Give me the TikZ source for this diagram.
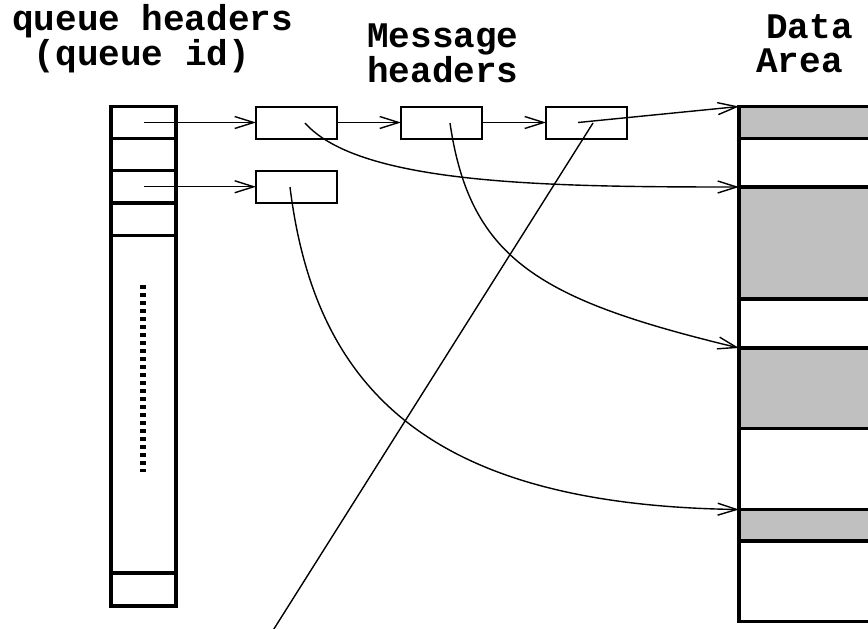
\documentclass[tikz,border=0pt]{standalone}
\usepackage{fontspec}
\setmonofont{Liberation Mono}
\usetikzlibrary{arrows.meta}
\definecolor{shade}{RGB}{192,192,192}
\begin{document}
\begin{tikzpicture}[x=1pt,y=-1pt,
  conn/.style={line width=1.4pt},
  arr/.style={line width=1.4pt,-{Straight Barb[length=19pt,width=12pt]}},
  qcell/.style={draw,line width=3.5pt,minimum width=65pt,inner sep=0pt,outer sep=0pt},
  dcell/.style={draw,line width=3.5pt,minimum width=161pt,inner sep=0pt,outer sep=0pt},
  mbox/.style={draw,line width=2pt,minimum width=81pt,minimum height=32pt,inner sep=0pt,outer sep=0pt},
  lbl/.style={anchor=base west,inner sep=0pt,align=left},
]
\useasboundingbox (0,0) rectangle (868,629);
\clip (0,0) rectangle (868,629);
% labels (base anchor = baseline of the last line)
\node[lbl,font=\fontsize{36}{32}\selectfont\ttfamily\bfseries] (t1) at (12,65) {queue headers\\~(queue id)};
\node[lbl,font=\fontsize{36}{35}\selectfont\ttfamily\bfseries] (t3) at (367,82) {Message\\headers};
\node[lbl,font=\fontsize{36}{34}\selectfont\ttfamily\bfseries] (t5) at (756,72) {\hspace*{10pt}Data\\Area};
% queue header column
\node[qcell,minimum height=32pt] (q1) at (143.5,122.5) {};
\node[qcell,minimum height=32pt] (q2) at (143.5,154.5) {};
\node[qcell,minimum height=32.5pt] (q3) at (143.5,186.75) {};
\node[qcell,minimum height=32.5pt] (q4) at (143.5,219.25) {};
\node[qcell,minimum height=337.5pt] (q5) at (143.5,404.25) {};
\node[qcell,minimum height=33pt] (q6) at (143.5,589.5) {};
\draw[line width=6pt,dash pattern=on 4pt off 4pt] (143,285) -- (143,472);
% data area
\node[dcell,fill=shade,minimum height=32pt] (d1) at (819.5,122.5) {};
\node[dcell,minimum height=48.5pt] (d2) at (819.5,162.75) {};
\node[dcell,fill=shade,minimum height=112pt] (d3) at (819.5,243) {};
\node[dcell,minimum height=49pt] (d4) at (819.5,323.5) {};
\node[dcell,fill=shade,minimum height=80.5pt] (d5) at (819.5,388.25) {};
\node[dcell,minimum height=81pt] (d6) at (819.5,469) {};
\node[dcell,fill=shade,minimum height=31.5pt] (d7) at (819.5,525.25) {};
\node[dcell,minimum height=80.5pt] (d8) at (819.5,581.25) {};
% message headers
\node[mbox] (m1) at (296.5,122.5) {};
\node[mbox] (m2) at (441.5,122.5) {};
\node[mbox] (m3) at (586.5,122.5) {};
\node[mbox] (m4) at (296.5,186.75) {};
% connectors
\draw[arr] (q1.center) -- (m1.west);
\draw[arr] (q3.center) -- (m4.west);
\draw[arr] (m1.east) -- (m2.west);
\draw[arr] (m2.east) -- (m3.west);
\coordinate (s1) at (305,123);
\coordinate (s2) at (450,123);
\coordinate (s3) at (578,122.5);
\coordinate (s4) at (290,187);
\coordinate (s5) at (593,123);
\coordinate (e5) at (272,632);
\draw[arr] (s3) -- (d1.north west);
\draw[arr] (s1) .. controls (360,185) and (550,187) .. (d3.north west);
\draw[arr] (s2) .. controls (470,260) and (540,300) .. (d5.north west);
\draw[arr] (s4) .. controls (315,390) and (430,505) .. (d7.north west);
\draw[conn] (s5) -- (e5);
\end{tikzpicture}
\end{document}
